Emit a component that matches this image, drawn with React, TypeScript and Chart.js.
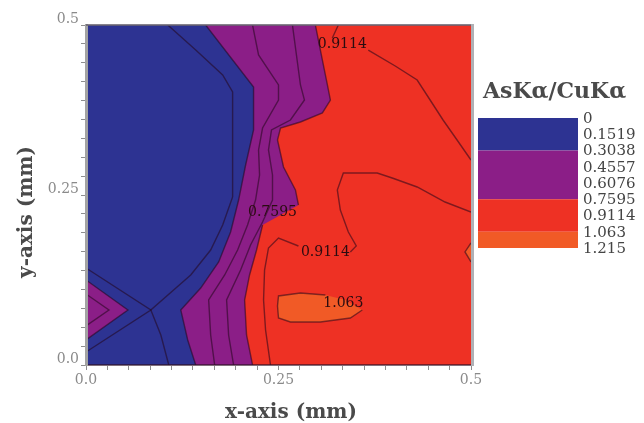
import { useEffect, useRef } from 'react';
import { Chart, registerables } from 'chart.js';

Chart.register(...registerables);

type P = [number, number];
type Q = P | null;

// ---------- axes ----------
const X_MAJOR_TICKS = [0, 0.25, 0.5];
const X_TICK_LABELS = ['0.0', '0.25', '0.5'];
const Y_MAJOR_TICKS = [0, 0.25, 0.5];
const Y_TICK_LABELS = ['0.0', '0.25', '0.5'];
const MINOR_DIVISIONS = 9;
const X_TITLE = 'x-axis (mm)';
const Y_TITLE = 'y-axis (mm)';

// ---------- colour scale ----------
const LEGEND_TITLE = 'AsKα/CuKα';
const LEVEL_LABELS = ['0', '0.1519', '0.3038', '0.4557', '0.6076', '0.7595', '0.9114', '1.063', '1.215'];
const BAND_START_LEVEL = [0, 2, 5, 7];
const BAND_END_LEVEL = [2, 5, 7, 8];

// ---------- filled regions (mm) ----------
const REGION_BASE: P[] = [[0, 0], [0.5, 0], [0.5, 0.5], [0, 0.5], [0, 0]];
const REGION_ABOVE_3038_MAIN: P[] = [
  [0.1554, 0.5], [0.2176, 0.4088], [0.2176, 0.3456], [0.2073, 0.2941], [0.1982, 0.2426],
  [0.1878, 0.1956], [0.1723, 0.1515], [0.149, 0.1132], [0.1231, 0.0809], [0.1321, 0.0368],
  [0.1425, 0], [0.5, 0], [0.5, 0.5], [0.1554, 0.5],
];
const REGION_ABOVE_3038_WEDGE: P[] = [[0, 0.125], [0.0544, 0.0809], [0, 0.0368], [0, 0.125]];
const REGION_ABOVE_7595: P[] = [
  [0.2979, 0.5], [0.307, 0.4485], [0.3135, 0.4118], [0.3174, 0.3897], [0.307, 0.3706],
  [0.2785, 0.3574], [0.2526, 0.3485], [0.2487, 0.3309], [0.2565, 0.2912], [0.272, 0.2574],
  [0.2759, 0.2353], [0.2526, 0.2206], [0.2293, 0.2059], [0.2215, 0.1691], [0.2124, 0.1324],
  [0.206, 0.0956], [0.2085, 0.0441], [0.2163, 0], [0.5, 0], [0.5, 0.5], [0.2979, 0.5],
];
const REGION_ABOVE_1063_LOOP: P[] = [
  [0.25, 0.1015], [0.2785, 0.1059], [0.3109, 0.1029], [0.3368, 0.0956], [0.3588, 0.0809],
  [0.3433, 0.0691], [0.3044, 0.0632], [0.2655, 0.0632], [0.25, 0.0691], [0.2487, 0.0868], [0.25, 0.1015],
];
const REGION_ABOVE_1063_EDGE: P[] = [[0.5, 0.1794], [0.4922, 0.1662], [0.5, 0.1515], [0.5, 0.1794]];

// ---------- contour lines (mm), null = gap for a label ----------
const C1519_MAIN: Q[] = [
  [0.1062, 0.5], [0.1425, 0.4632], [0.1775, 0.4265], [0.1904, 0.4015], [0.1904, 0.3456],
  [0.1904, 0.2471], [0.1775, 0.2059], [0.1619, 0.1691], [0.136, 0.1324], [0.0842, 0.0809],
  [0.0972, 0.0441], [0.1075, 0],
];
const C1519_WEDGE: Q[] = [[0, 0.1426], [0.0842, 0.0809], [0, 0.0191]];
const C3038_MAIN: Q[] = REGION_ABOVE_3038_MAIN.slice(0, 11);
const C3038_WEDGE: Q[] = [[0, 0.125], [0.0544, 0.0809], [0, 0.0368]];
const C4557_MAIN: Q[] = [
  [0.2163, 0.5], [0.2241, 0.4559], [0.25, 0.4118], [0.25, 0.3897], [0.2293, 0.3485],
  [0.2241, 0.3162], [0.2254, 0.2794], [0.2202, 0.2426], [0.2098, 0.2059], [0.1969, 0.1691],
  [0.1801, 0.1324], [0.1593, 0.0956], [0.1619, 0.0441], [0.1671, 0],
];
const C4557_WEDGE: Q[] = [[0, 0.1044], [0.0298, 0.0809], [0, 0.0574]];
const C6076_MAIN: Q[] = [
  [0.2681, 0.5], [0.2733, 0.4559], [0.2785, 0.4118], [0.2837, 0.3897], [0.2655, 0.3603],
  [0.2409, 0.3456], [0.237, 0.3162], [0.2422, 0.2794], [0.2422, 0.2426], [0.2293, 0.2103],
  [0.2137, 0.1765], [0.2008, 0.1397], [0.1826, 0.0956], [0.1852, 0.0441], [0.1917, 0],
];
const C7595: Q[] = [
  [0.2979, 0.5], [0.307, 0.4485], [0.3135, 0.4118], [0.3174, 0.3897], [0.307, 0.3706],
  [0.2785, 0.3574], [0.2526, 0.3485], [0.2487, 0.3309], [0.2565, 0.2912], [0.272, 0.2574],
  [0.2759, 0.2353], null, [0.2293, 0.2059], [0.2215, 0.1691], [0.2124, 0.1324],
  [0.206, 0.0956], [0.2085, 0.0441], [0.2163, 0],
];
const C9114_UPPER: Q[] = [
  [0.3277, 0.5], [0.3199, 0.4809], null, [0.3666, 0.4632], [0.4016, 0.4397], [0.4301, 0.4191],
  [0.4469, 0.3897], [0.4637, 0.3603], [0.4819, 0.3309], [0.5, 0.3015],
];
const C9114_LOWER: Q[] = [
  [0.5, 0.225], [0.4663, 0.2397], [0.4301, 0.2618], [0.3977, 0.275], [0.3782, 0.2824],
  [0.3342, 0.2824], [0.3264, 0.2574], [0.3303, 0.2279], [0.3407, 0.1956], [0.351, 0.175],
  [0.3433, 0.1662], null, [0.2759, 0.175], [0.25, 0.1868], [0.237, 0.1721], [0.2319, 0.1397],
  [0.2306, 0.0956], [0.2332, 0.0515], [0.2396, 0],
];
const C1063_LOOP: Q[] = [
  [0.3588, 0.0809], [0.3433, 0.0691], [0.3044, 0.0632], [0.2655, 0.0632], [0.25, 0.0691],
  [0.2487, 0.0868], [0.25, 0.1015], [0.2785, 0.1059], [0.3109, 0.1029],
];
const C1063_EDGE: Q[] = [[0.5, 0.1794], [0.4922, 0.1662], [0.5, 0.1515]];

// ---------- contour labels ----------
const CONTOUR_LABEL_TEXTS = ['0.9114', '0.7595', '0.9114', '1.063'];
const CONTOUR_LABEL_X = [0.3329, 0.2422, 0.3109, 0.3342];
const CONTOUR_LABEL_Y = [0.4721, 0.225, 0.1662, 0.0912];

// ---------- styles ----------
const BLUE = '#2d3392';
const PURPLE = '#8b1e87';
const RED = '#ee3124';
const ORANGE = '#f15a26';
const BAND_COLORS = [BLUE, PURPLE, RED, ORANGE];
const LINE_COLOR = 'rgba(35,5,25,0.55)';
const FONT = '"DejaVu Serif", "Liberation Serif", serif';

const toXY = (pts: Q[]) => pts.map((p) => (p ? { x: p[0], y: p[1] } : { x: null, y: null }));

const region = (pts: P[], color: string, order: number) => ({
  data: toXY(pts),
  showLine: true,
  fill: 'shape',
  backgroundColor: color,
  borderColor: 'rgba(0,0,0,0)',
  borderWidth: 0,
  pointRadius: 0,
  pointHoverRadius: 0,
  tension: 0,
  order,
});

const contour = (pts: Q[]) => ({
  data: toXY(pts),
  showLine: true,
  fill: false,
  borderColor: LINE_COLOR,
  borderWidth: 1.4,
  pointRadius: 0,
  pointHoverRadius: 0,
  tension: 0,
  spanGaps: false,
  order: 1,
});

const buildTicks = (majors: number[]) => {
  const out: { value: number }[] = [];
  for (let i = 0; i < majors.length - 1; i++) {
    for (let j = 0; j < MINOR_DIVISIONS; j++) {
      out.push({ value: majors[i] + ((majors[i + 1] - majors[i]) * j) / MINOR_DIVISIONS });
    }
  }
  out.push({ value: majors[majors.length - 1] });
  return out;
};

const tickLabel = (v: number, majors: number[], labels: string[]) => {
  const i = majors.findIndex((m) => Math.abs(m - v) < 1e-6);
  return i < 0 ? '' : labels[i];
};

const overlay = {
  id: 'overlay',
  afterDatasetsDraw(chart: any) {
    const { ctx } = chart;
    const xs = chart.scales.x;
    const ys = chart.scales.y;
    ctx.save();
    ctx.font = `14px ${FONT}`;
    ctx.fillStyle = '#2a0c10';
    ctx.textAlign = 'center';
    ctx.textBaseline = 'middle';
    CONTOUR_LABEL_TEXTS.forEach((t, i) => {
      ctx.fillText(t, xs.getPixelForValue(CONTOUR_LABEL_X[i]), ys.getPixelForValue(CONTOUR_LABEL_Y[i]));
    });
    ctx.restore();
  },
  afterDraw(chart: any) {
    const { ctx, chartArea: a } = chart;
    ctx.save();
    // top and right frame
    ctx.strokeStyle = 'rgba(105,100,112,0.8)';
    ctx.lineWidth = 2;
    ctx.beginPath();
    ctx.moveTo(a.left, a.top);
    ctx.lineTo(a.right, a.top);
    ctx.stroke();
    ctx.strokeStyle = '#b0b0b4';
    ctx.lineWidth = 3;
    ctx.beginPath();
    ctx.moveTo(a.right + 1.5, a.top - 1);
    ctx.lineTo(a.right + 1.5, a.bottom + 1);
    ctx.stroke();

    // axis titles
    ctx.fillStyle = '#4a4a4a';
    ctx.font = `bold 20px ${FONT}`;
    ctx.textAlign = 'center';
    ctx.textBaseline = 'alphabetic';
    ctx.fillText(X_TITLE, 291, 418);
    ctx.save();
    ctx.translate(32, 212);
    ctx.rotate(-Math.PI / 2);
    ctx.fillText(Y_TITLE, 0, 0);
    ctx.restore();

    // colour bar legend
    ctx.textAlign = 'left';
    ctx.font = `bold 22px ${FONT}`;
    ctx.fillText(LEGEND_TITLE, 483, 98);
    const barX = 478;
    const barW = 100;
    const barTop = 118;
    const step = 16.25;
    BAND_COLORS.forEach((c, i) => {
      ctx.fillStyle = c;
      const y0 = barTop + BAND_START_LEVEL[i] * step;
      const y1 = barTop + BAND_END_LEVEL[i] * step;
      ctx.fillRect(barX, y0, barW, y1 - y0);
    });
    ctx.fillStyle = '#444';
    ctx.font = `15px ${FONT}`;
    ctx.textBaseline = 'middle';
    LEVEL_LABELS.forEach((t, i) => {
      ctx.fillText(t, 583, barTop + i * step + 1);
    });
    ctx.restore();
  },
};

export default function App() {
  const ref = useRef<HTMLCanvasElement>(null);
  useEffect(() => {
    document.body.style.margin = '0';
    const tickFont = { family: FONT, size: 14 };
    const chart = new Chart(ref.current as HTMLCanvasElement, {
      type: 'scatter',
      data: {
        datasets: [
          region(REGION_BASE, BLUE, 100),
          region(REGION_ABOVE_3038_MAIN, PURPLE, 90),
          region(REGION_ABOVE_3038_WEDGE, PURPLE, 89),
          region(REGION_ABOVE_7595, RED, 80),
          region(REGION_ABOVE_1063_LOOP, ORANGE, 70),
          region(REGION_ABOVE_1063_EDGE, ORANGE, 69),
          contour(C1519_MAIN),
          contour(C1519_WEDGE),
          contour(C3038_MAIN),
          contour(C3038_WEDGE),
          contour(C4557_MAIN),
          contour(C4557_WEDGE),
          contour(C6076_MAIN),
          contour(C7595),
          contour(C9114_UPPER),
          contour(C9114_LOWER),
          contour(C1063_LOOP),
          contour(C1063_EDGE),
        ] as any,
      },
      options: {
        animation: false,
        responsive: false,
        devicePixelRatio: 1,
        events: [],
        layout: { padding: { top: 25, right: 173, bottom: 0, left: 0 } },
        plugins: { legend: { display: false }, tooltip: { enabled: false } },
        scales: {
          x: {
            type: 'linear',
            min: 0,
            max: 0.5,
            afterBuildTicks: (s: any) => {
              s.ticks = buildTicks(X_MAJOR_TICKS);
            },
            afterFit: (s: any) => {
              s.height = 58;
            },
            ticks: {
              autoSkip: false,
              maxRotation: 0,
              padding: 2,
              color: '#8a8a8a',
              font: tickFont,
              callback: (v: any) => tickLabel(Number(v), X_MAJOR_TICKS, X_TICK_LABELS),
            },
            grid: { drawOnChartArea: false, drawTicks: true, tickLength: 5, color: '#8e8e8e', lineWidth: 1 },
            border: { display: true, color: 'rgba(45,15,35,0.6)', width: 2, z: 1 },
          },
          y: {
            type: 'linear',
            min: 0,
            max: 0.5,
            afterBuildTicks: (s: any) => {
              s.ticks = buildTicks(Y_MAJOR_TICKS);
            },
            afterFit: (s: any) => {
              s.width = 86;
            },
            ticks: {
              autoSkip: false,
              padding: 2,
              labelOffset: -6,
              color: '#8a8a8a',
              font: tickFont,
              callback: (v: any) => tickLabel(Number(v), Y_MAJOR_TICKS, Y_TICK_LABELS),
            },
            grid: { drawOnChartArea: false, drawTicks: true, tickLength: 5, color: '#8e8e8e', lineWidth: 1 },
            border: { display: true, color: '#a3a3a3', width: 3, z: 1 },
          },
        },
      } as any,
      plugins: [overlay],
    });
    return () => chart.destroy();
  }, []);
  return (
    <div style={{ width: 644, height: 423, background: '#fff' }}>
      <canvas ref={ref} width={644} height={423} style={{ display: 'block' }} />
    </div>
  );
}
